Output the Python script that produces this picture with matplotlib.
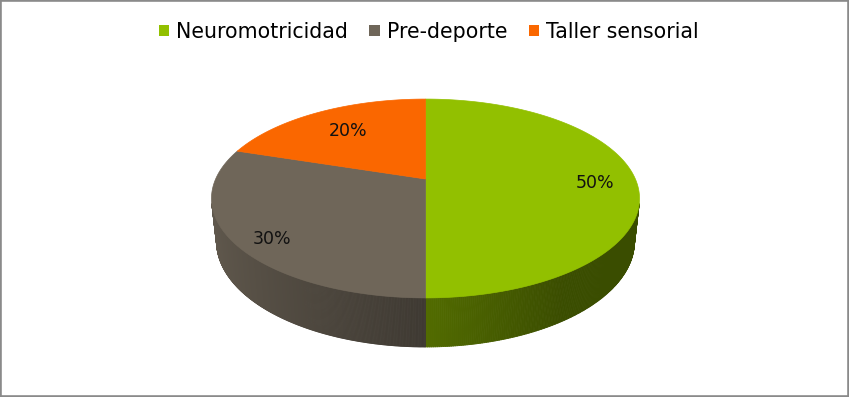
import numpy as np
import matplotlib
matplotlib.use('Agg')
import matplotlib.pyplot as plt
from matplotlib.patches import Polygon, Patch, Rectangle
from matplotlib.collections import PolyCollection
from matplotlib.colors import to_rgb

# ---- data ----
categories = ['Neuromotricidad', 'Pre-deporte', 'Taller sensorial']
values = [50, 30, 20]
pct_labels = ['50%', '30%', '20%']
colors = ['#92C000', '#6F6659', '#FA6700']

# ---- 3D perspective pie geometry (layout parameters) ----
W, H = 849, 397
cx, cy = 425.5, 179.0        # screen position of pie centre (pixels)
focal = 953.2                # projection scale
elev = np.radians(27.1)      # camera elevation
dist = 4.542                 # camera distance (in pie radii)
height = 0.232               # pie thickness (in pie radii)
ce, se = np.cos(elev), np.sin(elev)
label_r = [0.81, 0.82, 0.70]     # label radius on the top face
label_dy = [4, 9, 1]             # small vertical nudge (pixels)


def proj(X, Y, Z):
    depth = dist + Y * ce - Z * se
    up = Y * se + Z * ce
    return cx + focal * X / depth, cy - focal * up / depth


def shade(cos_t):
    return np.interp(cos_t, [-1.0, 0.0, 0.55, 1.0], [0.87, 0.56, 0.40, 0.40])


fig = plt.figure(figsize=(W / 100, H / 100), dpi=100)
ax = fig.add_axes([0, 0, 1, 1])
ax.set_xlim(0, W)
ax.set_ylim(H, 0)
ax.axis('off')

total = float(sum(values))
fracs = np.array(values) / total
starts = 90 - 360 * np.concatenate([[0], np.cumsum(fracs)[:-1]])
ends = starts - 360 * fracs

vis_limit = -1.0 / (dist * ce)

# side walls
side_polys, side_cols = [], []
for i in range(len(values)):
    t = np.radians(np.linspace(starts[i], ends[i], 400))
    base = np.array(to_rgb(colors[i]))
    for a0, a1 in zip(t[:-1], t[1:]):
        tm = 0.5 * (a0 + a1)
        if np.sin(tm) >= vis_limit:
            continue
        p1 = proj(np.cos(a0), np.sin(a0), 0)
        p2 = proj(np.cos(a1), np.sin(a1), 0)
        p3 = proj(np.cos(a1), np.sin(a1), -height)
        p4 = proj(np.cos(a0), np.sin(a0), -height)
        side_polys.append([p1, p2, p3, p4])
        side_cols.append(np.clip(base * shade(np.cos(tm)), 0, 1))
pc = PolyCollection(side_polys, facecolors=side_cols, edgecolors=side_cols,
                    linewidths=0.6, zorder=1)
ax.add_collection(pc)

# top faces
for i in range(len(values)):
    t = np.radians(np.linspace(starts[i], ends[i], 300))
    xs, ys = proj(np.cos(t), np.sin(t), 0 * t)
    c0 = proj(0, 0, 0)
    pts = np.vstack([[c0], np.column_stack([xs, ys])])
    ax.add_patch(Polygon(pts, closed=True, facecolor=colors[i],
                         edgecolor=colors[i], linewidth=0.5, zorder=2))
    tm = np.radians(0.5 * (starts[i] + ends[i]))
    r = label_r[i]
    lx, ly = proj(r * np.cos(tm), r * np.sin(tm), 0)
    ax.text(lx, ly + label_dy[i], pct_labels[i], ha='center', va='center',
            fontsize=12.5, color='#111111', zorder=3)

# legend
handles = [Patch(facecolor=c, edgecolor='none') for c in colors]
fig.legend(handles, categories, loc='center', bbox_to_anchor=(0.505, 0.92),
           ncol=3, frameon=False, fontsize=14.8, handlelength=0.5,
           handleheight=0.5, handletextpad=0.34, columnspacing=1.05)

# border
fig.add_artist(Rectangle((0, 0), 1, 1, transform=fig.transFigure, fill=False,
                         edgecolor='#8a8a8a', linewidth=2.6))

fig.savefig('out.png', dpi=100)
